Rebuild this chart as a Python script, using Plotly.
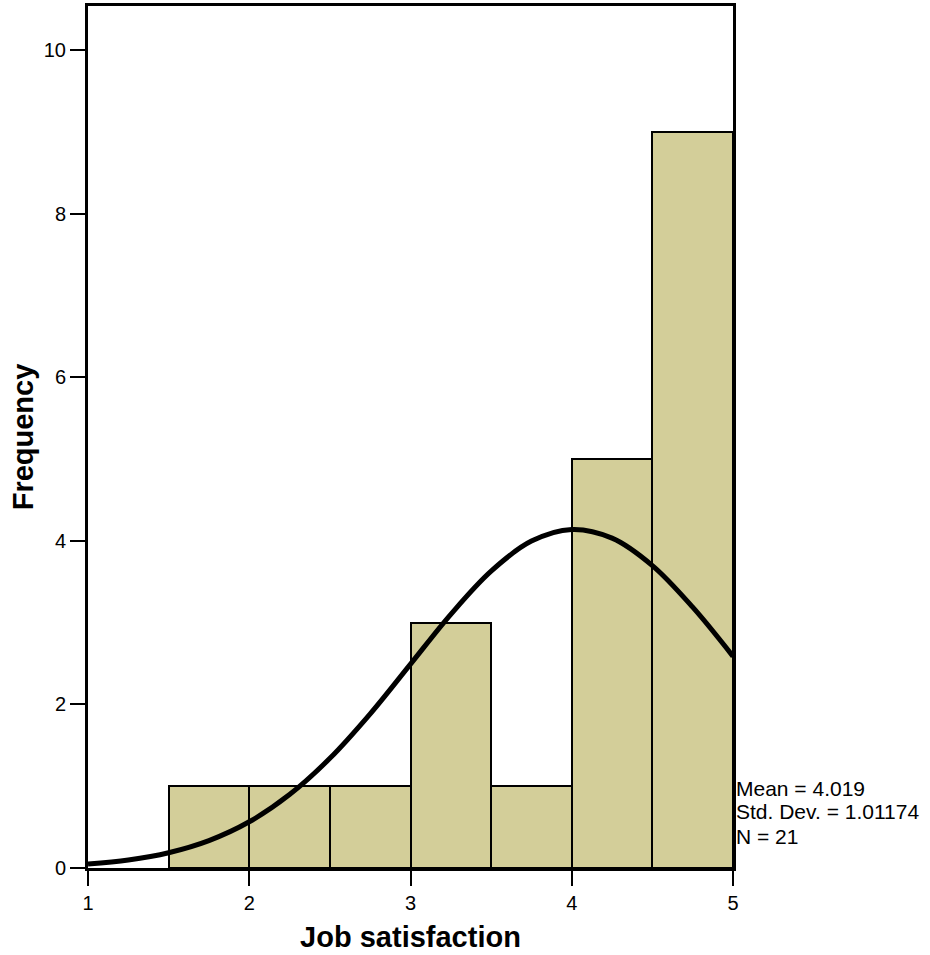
import plotly.graph_objects as go

# Histogram bins (centers) and counts
bin_centers = [1.75, 2.25, 2.75, 3.25, 3.75, 4.25, 4.75]
counts = [1, 1, 1, 3, 1, 5, 9]
bin_width = 0.5

# Normal curve
curve_x = [1.0, 1.25, 1.5, 1.75, 2.0, 2.25, 2.5, 2.75, 3.0, 3.25, 3.5, 3.75, 4.0, 4.25, 4.5, 4.75, 5.0]
curve_y = [0.048, 0.098, 0.187, 0.335, 0.565, 0.898, 1.341, 1.885, 2.493, 3.102, 3.630, 3.997, 4.140, 4.034, 3.698, 3.189, 2.588]

x_ticks = [1, 2, 3, 4, 5]
y_ticks = [0, 2, 4, 6, 8, 10]
stats_lines = ["Mean = 4.019", "Std. Dev. = 1.01174", "N = 21"]
stats_y = [0.978, 0.685, 0.391]

FONT = "Liberation Sans, Arial, sans-serif"

fig = go.Figure()
fig.add_trace(go.Bar(
    x=bin_centers, y=counts, width=[bin_width] * len(counts),
    marker=dict(color="#D3CE99", line=dict(color="black", width=2)),
    showlegend=False, hoverinfo="x+y",
))
fig.add_trace(go.Scatter(
    x=curve_x, y=curve_y, mode="lines",
    line=dict(color="black", width=5, shape="spline", smoothing=1.0),
    showlegend=False,
))

for txt, yy in zip(stats_lines, stats_y):
    fig.add_annotation(
        text=txt, xref="paper", x=1, xanchor="left", xshift=1,
        yref="y", y=yy, yanchor="middle", showarrow=False,
        font=dict(family=FONT, size=21, color="black"), align="left",
    )

fig.update_layout(
    width=930, height=955,
    margin=dict(l=88, r=197, t=6, b=87, autoexpand=False),
    plot_bgcolor="white", paper_bgcolor="white",
    bargap=0,
    font=dict(family=FONT, color="black"),
)
fig.update_xaxes(
    range=[1, 5], tickvals=x_ticks, ticktext=[str(v) for v in x_ticks],
    ticks="outside", ticklen=15, tickwidth=2, tickcolor="black",
    showline=True, linewidth=3, linecolor="black", mirror=True,
    showgrid=False, zeroline=False, automargin=False,
    tickfont=dict(family=FONT, size=20, color="black"),
    title=dict(text="<b>Job satisfaction</b>", font=dict(family=FONT, size=29, color="black"), standoff=14),
)
fig.update_yaxes(
    range=[0, 10.54], tickvals=y_ticks, ticktext=[str(v) for v in y_ticks],
    ticks="outside", ticklen=15, tickwidth=2, tickcolor="black",
    showline=True, linewidth=3, linecolor="black", mirror=True,
    showgrid=False, zeroline=False, automargin=False,
    tickfont=dict(family=FONT, size=20, color="black"),
    title=dict(text="<b>Frequency</b>", font=dict(family=FONT, size=29, color="black"), standoff=2),
)

fig.write_html("out.html", config={"displayModeBar": False},
               post_script="document.body.style.margin='0';")
